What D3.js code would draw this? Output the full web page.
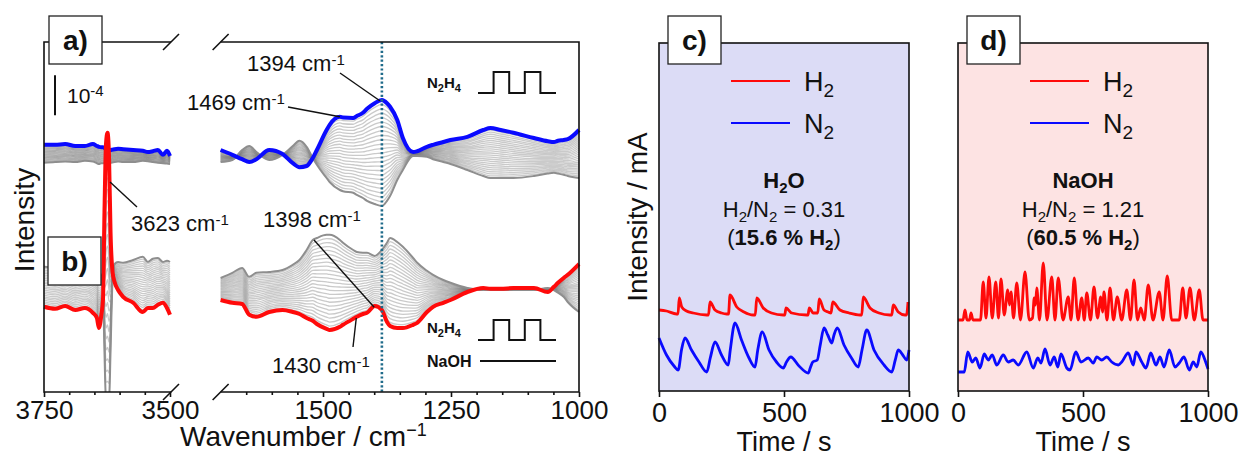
<!DOCTYPE html>
<html>
<head>
<meta charset="utf-8">
<script src="https://cdn.jsdelivr.net/npm/d3@7"></script>
<style>
  body { margin: 0; background: #fff; }
  text { font-family: "Liberation Sans", Arial, sans-serif; fill: #111; }
</style>
</head>
<body>
<div id="chart"></div>
<script>
// ---- IR spectra (intensity in units of 1e-4, stacked offsets included) ----
var wnLeft = [3750, 3728, 3708, 3688, 3669, 3653, 3645, 3641, 3636, 3633, 3630, 3627, 3624, 3621,
  3618, 3614, 3610, 3603, 3593, 3573, 3554, 3544, 3534, 3524, 3514, 3506, 3500];
var aBlueLeft = [6.18, 6.18, 6.20, 6.15, 6.15, 6.20, 6.15, 6.13, 6.12, 6.12, 6.10, 6.08, 6.07, 6.05,
  6.05, 6.06, 6.07, 6.08, 6.07, 6.05, 6.03, 6.00, 6.02, 6.05, 5.93, 6.03, 5.90];
var aGrayLeft = [5.73, 5.75, 5.76, 5.75, 5.78, 5.76, 5.72, 5.70, 5.72, 5.72, 5.73, 5.74, 5.74, 5.73,
  5.73, 5.74, 5.75, 5.76, 5.75, 5.75, 5.78, 5.77, 5.75, 5.73, 5.72, 5.71, 5.70];
var bRedLeft = [2.13, 2.08, 2.15, 2.05, 2.10, 1.98, 1.85, 1.60, 1.95, 2.30, 4.50, 6.20, 6.48, 5.90,
  4.00, 3.00, 2.75, 2.55, 2.38, 2.23, 2.00, 2.10, 2.10, 2.18, 2.23, 2.10, 1.93];
var bGrayLeft = [3.13, 3.12, 3.14, 3.10, 3.12, 3.10, 3.05, 3.00, 2.90, 2.50, 1.00, -0.30, -0.30, -0.30,
  1.00, 2.80, 3.20, 3.25, 3.23, 3.30, 3.38, 3.25, 3.33, 3.35, 3.25, 3.28, 3.25];

var wnRight = [1700, 1677, 1658, 1644, 1630, 1605, 1579, 1559, 1546, 1532, 1520, 1512, 1493, 1487,
  1467, 1461, 1441, 1434, 1422, 1414, 1399, 1385, 1375, 1369, 1355, 1344, 1324, 1316, 1297, 1285,
  1265, 1251, 1218, 1187, 1173, 1153, 1128, 1088, 1061, 1049, 1041, 1030, 1022, 1000];
var aBlueRight = [6.05, 5.93, 5.82, 5.75, 5.82, 6.05, 5.95, 5.72, 5.62, 5.65, 5.85, 6.05, 6.55, 6.68,
  6.88, 6.86, 6.85, 6.90, 6.98, 7.08, 7.22, 7.30, 7.22, 7.13, 6.80, 6.35, 6.00, 6.02, 6.13, 6.18,
  6.25, 6.30, 6.38, 6.55, 6.60, 6.55, 6.48, 6.35, 6.27, 6.25, 6.28, 6.30, 6.32, 6.55];
var aGrayRight = [5.75, 5.80, 6.05, 6.15, 6.00, 5.80, 5.93, 6.15, 6.28, 6.13, 5.85, 5.68, 5.35, 5.25,
  5.05, 5.02, 4.98, 4.93, 4.85, 4.78, 4.70, 4.65, 4.78, 4.90, 5.30, 5.55, 5.90, 5.90, 5.88, 5.82,
  5.75, 5.70, 5.55, 5.40, 5.35, 5.35, 5.35, 5.40, 5.46, 5.48, 5.46, 5.43, 5.40, 5.35];
var bRedRight = [2.30, 2.23, 2.20, 1.93, 1.88, 2.00, 2.05, 2.00, 1.95, 1.85, 1.78, 1.70, 1.58, 1.55,
  1.63, 1.68, 1.83, 1.88, 1.95, 1.98, 2.15, 2.05, 1.75, 1.65, 1.60, 1.60, 1.68, 1.73, 2.00, 2.13,
  2.23, 2.30, 2.50, 2.60, 2.58, 2.58, 2.60, 2.60, 2.50, 2.63, 2.73, 2.85, 2.93, 3.20];
var bGrayRight = [2.85, 2.98, 3.10, 2.88, 2.98, 3.00, 3.05, 3.18, 3.30, 3.55, 3.80, 3.85, 3.93, 3.93,
  3.80, 3.73, 3.55, 3.50, 3.48, 3.48, 3.40, 3.55, 3.73, 3.85, 3.75, 3.63, 3.35, 3.23, 3.03, 2.93,
  2.80, 2.73, 2.60, 2.55, 2.55, 2.55, 2.55, 2.55, 2.60, 2.55, 2.48, 2.38, 2.25, 2.00];

var ticksLeftMajor = [3750, 3500];
var ticksLeftMinor = [3700, 3650, 3600, 3550];
var ticksRightMajor = [1500, 1250, 1000];
var ticksRightMinor = [1650, 1600, 1550, 1450, 1400, 1350, 1300, 1200, 1150, 1100, 1050];
var markerWn = 1385;
var scaleBarBase = 6.92;
var nGray = 24;

// ---- mass spec traces (time s, intensity mA) ----
var h2Water = [[0,0.81],[30,0.80],[70,0.77],[76,0.77],[81,0.93],[91,0.84],[110,0.80],[137,0.78],[191,0.76],
  [198,0.76],[204,0.89],[224,0.81],[250,0.78],[271,0.77],[278,0.77],[284,0.96],[311,0.84],[340,0.79],
  [377,0.76],[385,0.76],[391,0.93],[417,0.83],[450,0.78],[497,0.76],[503,0.76],[508,0.83],[531,0.78],
  [591,0.76],[596,0.76],[601,0.83],[617,0.78],[635,0.78],[641,0.92],[660,0.81],[677,0.79],[688,0.78],
  [695,0.89],[724,0.81],[760,0.78],[804,0.76],[811,0.76],[817,0.94],[844,0.83],[880,0.78],[924,0.76],
  [931,0.76],[937,0.86],[957,0.79],[984,0.76],[990,0.76],[996,0.89]];
var n2Water = [[0,0.53],[30,0.36],[60,0.25],[77,0.21],[90,0.41],[104,0.53],[130,0.41],[160,0.29],[191,0.19],
  [205,0.33],[224,0.49],[250,0.36],[277,0.26],[285,0.41],[304,0.68],[330,0.51],[360,0.33],[384,0.24],
  [395,0.41],[413,0.59],[440,0.41],[470,0.29],[497,0.23],[510,0.29],[527,0.34],[560,0.25],[597,0.18],
  [605,0.23],[615,0.29],[633,0.31],[645,0.46],[660,0.63],[675,0.56],[691,0.48],[700,0.56],[713,0.63],
  [740,0.46],[770,0.33],[797,0.24],[812,0.41],[831,0.61],[860,0.41],[900,0.26],[931,0.19],[945,0.31],
  [957,0.41],[975,0.36],[991,0.31],[1000,0.41]];
var h2NaOH = [[0,0.71],[20,0.71],[28,0.81],[36,0.71],[46,0.71],[52,0.78],[60,0.71],[90,0.71],[101,1.09],
  [112,0.73],[124,1.14],[137,0.73],[151,1.09],[162,0.73],[172,1.12],[185,0.76],[199,1.01],[206,0.86],
  [212,0.99],[222,0.73],[235,1.08],[250,0.71],[268,1.19],[285,0.71],[298,0.73],[305,0.93],[310,0.86],
  [315,1.03],[326,0.71],[341,1.28],[356,0.71],[375,1.14],[388,0.71],[401,1.13],[420,0.71],[441,0.94],
  [452,0.71],[465,1.13],[480,0.71],[495,0.93],[505,0.71],[515,0.98],[530,0.71],[544,1.04],[558,0.73],
  [571,0.94],[578,0.79],[584,0.99],[596,0.71],[608,1.03],[622,0.71],[637,0.94],[655,0.71],[675,1.01],
  [690,0.71],[704,1.11],[718,0.71],[731,0.83],[745,0.71],[761,1.06],[780,0.71],[805,0.99],[820,0.71],
  [837,1.15],[855,0.71],[885,0.71],[899,1.03],[912,0.73],[928,1.03],[945,0.71],[965,1.01],[980,0.71],
  [1000,0.71]];
var n2NaOH = [[0,0.19],[25,0.19],[39,0.39],[57,0.29],[71,0.33],[88,0.23],[105,0.37],[121,0.31],[137,0.36],
  [155,0.26],[181,0.36],[201,0.29],[221,0.31],[241,0.26],[275,0.39],[301,0.23],[319,0.33],[332,0.28],
  [348,0.42],[368,0.26],[385,0.34],[399,0.24],[412,0.37],[435,0.23],[448,0.21],[471,0.39],[492,0.29],
  [521,0.33],[541,0.28],[555,0.34],[575,0.31],[595,0.34],[615,0.29],[641,0.26],[655,0.29],[681,0.38],
  [701,0.26],[712,0.39],[735,0.29],[752,0.23],[771,0.38],[792,0.26],[808,0.34],[824,0.24],[845,0.41],
  [868,0.24],[885,0.28],[904,0.34],[925,0.21],[941,0.29],[955,0.24],[971,0.39],[992,0.28],[1000,0.22]];
var timeTicks = [0, 500, 1000];

// N2H4 pulse legend glyph
var pulseX = [0, 1, 1, 2, 2, 3, 3, 4, 4, 5];
var pulseLevel = [0, 0, 1, 1, 0, 0, 1, 1, 0, 0];

var svgWidth = 1241, svgHeight = 459;
var svg = d3.select("#chart").append("svg")
  .attr("width", svgWidth)
  .attr("height", svgHeight);

// ================= left panel (a, b) =================
var irTop = 42, irBottom = 392;
var xLeft = d3.scaleLinear().domain([3750, 3500]).range([44, 170]);
var xRight = d3.scaleLinear().domain([1700, 1000]).range([220.6, 579]);
var yIR = d3.scaleLinear().domain([0, 8.75]).range([irBottom, irTop]);

svg.append("clipPath").attr("id", "irclip")
  .append("rect").attr("x", 40).attr("y", irTop).attr("width", 545).attr("height", irBottom - irTop);

var ir = svg.append("g").attr("clip-path", "url(#irclip)");

function spectrumLine(x, wn) {
  return d3.line()
    .x(function(d, i) { return x(wn[i]); })
    .y(function(d) { return yIR(d); })
    .curve(d3.curveMonotoneX);
}

// gray family: spectra going from the first one to the last one
function drawFan(x, wn, first, last) {
  var line = spectrumLine(x, wn);
  for (var k = 1; k < nGray; k++) {
    var f = k / nGray;
    var vals = first.map(function(v, i) { return v + (last[i] - v) * f; });
    ir.append("path").attr("d", line(vals))
      .attr("fill", "none").attr("stroke", "#7a7a7a")
      .attr("stroke-opacity", 0.4).attr("stroke-width", 1.3);
  }
  ir.append("path").attr("d", line(first))
    .attr("fill", "none").attr("stroke", "#8e8e8e").attr("stroke-width", 2);
}
drawFan(xLeft, wnLeft, aGrayLeft, aBlueLeft);
drawFan(xRight, wnRight, aGrayRight, aBlueRight);
drawFan(xLeft, wnLeft, bGrayLeft, bRedLeft);
drawFan(xRight, wnRight, bGrayRight, bRedRight);

function drawFinal(x, wn, vals, color) {
  ir.append("path").attr("d", spectrumLine(x, wn)(vals))
    .attr("fill", "none").attr("stroke", color).attr("stroke-width", 4)
    .attr("stroke-linejoin", "round");
}
drawFinal(xLeft, wnLeft, aBlueLeft, "#0a0aff");
drawFinal(xRight, wnRight, aBlueRight, "#0a0aff");
drawFinal(xLeft, wnLeft, bRedLeft, "#ff0a0a");
drawFinal(xRight, wnRight, bRedRight, "#ff0a0a");

// dotted marker
svg.append("line")
  .attr("x1", xRight(markerWn)).attr("x2", xRight(markerWn))
  .attr("y1", irTop).attr("y2", irBottom)
  .attr("stroke", "#1f6b8a").attr("stroke-width", 2.6).attr("stroke-dasharray", "2.2,2.2");

// frame with axis breaks
var brkL = xLeft.range()[1] + 1, brkR = xRight.range()[0];
var frame = svg.append("g").attr("stroke", "#111").attr("stroke-width", 1.6).attr("fill", "none");
frame.append("path").attr("d",
  "M" + brkL + "," + irTop + "H44V" + irBottom + "H" + brkL +
  "M" + brkR + "," + irTop + "H579V" + irBottom + "H" + brkR);
[brkL, brkR].forEach(function(cx) {
  [irTop, irBottom].forEach(function(cy) {
    frame.append("line").attr("x1", cx - 8).attr("y1", cy + 8).attr("x2", cx + 8).attr("y2", cy - 8);
  });
});

function styleAxis(g, size) {
  g.select(".domain").remove();
  g.selectAll("line").attr("stroke", "#111").attr("stroke-width", 1.6);
  g.selectAll("text").attr("font-size", size)
    .attr("font-family", "'Liberation Sans', Arial, sans-serif").attr("fill", "#111");
}
[[xLeft, ticksLeftMajor, ticksLeftMinor], [xRight, ticksRightMajor, ticksRightMinor]].forEach(function(s) {
  var gMaj = svg.append("g").attr("transform", "translate(0," + irBottom + ")")
    .call(d3.axisBottom(s[0]).tickValues(s[1]).tickFormat(d3.format("d"))
      .tickSize(5).tickPadding(4).tickSizeOuter(0));
  styleAxis(gMaj, 26);
  var gMin = svg.append("g").attr("transform", "translate(0," + irBottom + ")")
    .call(d3.axisBottom(s[0]).tickValues(s[2]).tickSize(3).tickFormat(""));
  styleAxis(gMin, 26);
});

// axis titles
var xt = svg.append("text").attr("x", 180).attr("y", 446).attr("font-size", 28);
xt.append("tspan").text("Wavenumber / cm");
xt.append("tspan").attr("font-size", 18).attr("dy", -10).text("\u22121");
svg.append("text").attr("transform", "translate(34,220) rotate(-90)")
  .attr("text-anchor", "middle").attr("font-size", 28).text("Intensity");

// scale bar
svg.append("line").attr("x1", 55).attr("x2", 55)
  .attr("y1", yIR(scaleBarBase)).attr("y2", yIR(scaleBarBase + 1))
  .attr("stroke", "#111").attr("stroke-width", 2);
var sb = svg.append("text").attr("x", 67).attr("y", 103).attr("font-size", 21);
sb.append("tspan").text("10");
sb.append("tspan").attr("font-size", 15).attr("dy", -7).text("-4");

// peak annotations
var annots = [
  { label: "1394", tx: 247, ty: 71, lx: 340, ly: 73, wn: 1389, v: 7.28, x: xRight },
  { label: "1469", tx: 187, ty: 110, lx: 288, ly: 107, wn: 1467, v: 6.88, x: xRight },
  { label: "3623", tx: 131, ty: 231, lx: 137, ly: 207, wn: 3619, v: 5.25, x: xLeft },
  { label: "1398", tx: 263, ty: 227, lx: 314, ly: 240, wn: 1400, v: 2.12, x: xRight },
  { label: "1430", tx: 272, ty: 373, lx: 353, ly: 347, wn: 1435, v: 1.85, x: xRight }
];
annots.forEach(function(a) {
  svg.append("line").attr("x1", a.lx).attr("y1", a.ly)
    .attr("x2", a.x(a.wn)).attr("y2", yIR(a.v))
    .attr("stroke", "#111").attr("stroke-width", 1.4);
  var t = svg.append("text").attr("x", a.tx).attr("y", a.ty).attr("font-size", 22);
  t.append("tspan").text(a.label + " cm");
  t.append("tspan").attr("font-size", 15).attr("dy", -6).text("-1");
});

// pulse legends
function pulse(yLow, yHigh) {
  var px = d3.scaleLinear().domain([0, 5]).range([478, 556]);
  var py = d3.scaleLinear().domain([0, 1]).range([yLow, yHigh]);
  svg.append("path")
    .attr("d", d3.line().x(function(d, i) { return px(pulseX[i]); }).y(function(d) { return py(d); })(pulseLevel))
    .attr("fill", "none").attr("stroke", "#111").attr("stroke-width", 2);
}
function chem(x, y, parts, size, anchor) {
  var t = svg.append("text").attr("x", x).attr("y", y).attr("font-size", size)
    .attr("text-anchor", anchor || "start");
  parts.forEach(function(p) {
    var s = t.append("tspan").text(p.t);
    if (p.b) s.attr("font-weight", "bold");
    if (p.sub) s.attr("font-size", p.subSize).attr("dy", p.dy);
    else if (p.dy) s.attr("dy", p.dy);
  });
  return t;
}
function formula(x, y, size, subSize, shift, pieces, bold, anchor) {
  var parts = [];
  pieces.forEach(function(p) {
    if (typeof p === "string") parts.push({ t: p, b: bold, dy: parts.length && parts[parts.length - 1].sub ? -shift : 0 });
    else parts.push({ t: p.s, b: bold, sub: true, subSize: subSize, dy: parts.length && parts[parts.length - 1].sub ? 0 : shift });
  });
  return chem(x, y, parts, size, anchor);
}
formula(427, 88, 15, 11, 4, ["N", { s: "2" }, "H", { s: "4" }], true);
pulse(93, 72);
formula(427, 333, 15, 11, 4, ["N", { s: "2" }, "H", { s: "4" }], true);
pulse(340, 320);
chem(427, 367, [{ t: "NaOH", b: true }], 16);
svg.append("line").attr("x1", 480).attr("x2", 556).attr("y1", 361).attr("y2", 361)
  .attr("stroke", "#111").attr("stroke-width", 2);

// panel label boxes
function panelBox(x, y, label) {
  svg.append("rect").attr("x", x).attr("y", y).attr("width", 53).attr("height", 48)
    .attr("fill", "#fff").attr("stroke", "#222").attr("stroke-width", 1.3);
  svg.append("text").attr("x", x + 26.5).attr("y", y + 34).attr("text-anchor", "middle")
    .attr("font-size", 28).attr("font-weight", "bold").text(label);
}
panelBox(49, 16, "a)");
panelBox(48, 237, "b)");

// ================= mass spec panels (c, d) =================
var msTop = 43, msBottom = 391;
var yMS = d3.scaleLinear().domain([0, 3.48]).range([msBottom, msTop]);

function msPanel(x0, x1, bg, h2, n2, label, medium, ratio, pct) {
  var x = d3.scaleLinear().domain([0, 1000]).range([x0, x1]);
  svg.append("rect").attr("x", x0).attr("y", msTop).attr("width", x1 - x0).attr("height", msBottom - msTop)
    .attr("fill", bg);
  var line = d3.line().x(function(d) { return x(d[0]); }).y(function(d) { return yMS(d[1]); })
    .curve(d3.curveMonotoneX);
  svg.append("path").attr("d", line(h2)).attr("fill", "none").attr("stroke", "#ff0a0a")
    .attr("stroke-width", 2.8).attr("stroke-linejoin", "round");
  svg.append("path").attr("d", line(n2)).attr("fill", "none").attr("stroke", "#0a0aff")
    .attr("stroke-width", 2.8).attr("stroke-linejoin", "round");
  svg.append("rect").attr("x", x0).attr("y", msTop).attr("width", x1 - x0).attr("height", msBottom - msTop)
    .attr("fill", "none").attr("stroke", "#111").attr("stroke-width", 1.6);

  var gx = svg.append("g").attr("transform", "translate(0," + msBottom + ")")
    .call(d3.axisBottom(x).tickValues(timeTicks).tickFormat(d3.format("d"))
      .tickSize(6).tickPadding(6).tickSizeOuter(0));
  styleAxis(gx, 27);
  svg.append("text").attr("x", x(500)).attr("y", 451).attr("text-anchor", "middle")
    .attr("font-size", 27).text("Time / s");

  // legend
  var lx = x0 + 72;
  [["#ff0a0a", "H", 81], ["#0a0aff", "N", 123]].forEach(function(l) {
    svg.append("line").attr("x1", lx).attr("x2", lx + 59).attr("y1", l[2]).attr("y2", l[2])
      .attr("stroke", l[0]).attr("stroke-width", 2.2);
    formula(lx + 73, l[2] + 10, 27, 19, 6, [l[1], { s: "2" }], false);
  });

  var cx = x0 + 125;
  formula(cx, 188, 22, 15, 5, medium, true, "middle");
  formula(cx, 217, 22, 15, 5, ["H", { s: "2" }, "/N", { s: "2" }, " = " + ratio], false, "middle");
  chem(cx, 245, [
    { t: "(" }, { t: pct + " % H", b: true }, { t: "2", b: true, sub: true, subSize: 15, dy: 5 },
    { t: ")", dy: -5 }
  ], 22, "middle");

  panelBox(x0 + 9, 16, label);
}
msPanel(659, 909, "#dcdcf6", h2Water, n2Water, "c)", ["H", { s: "2" }, "O"], "0.31", "15.6");
msPanel(958, 1208, "#fde3e3", h2NaOH, n2NaOH, "d)", ["NaOH"], "1.21", "60.5");

svg.append("text").attr("transform", "translate(647,217) rotate(-90)")
  .attr("text-anchor", "middle").attr("font-size", 28).text("Intensity / mA");
</script>
</body>
</html>
